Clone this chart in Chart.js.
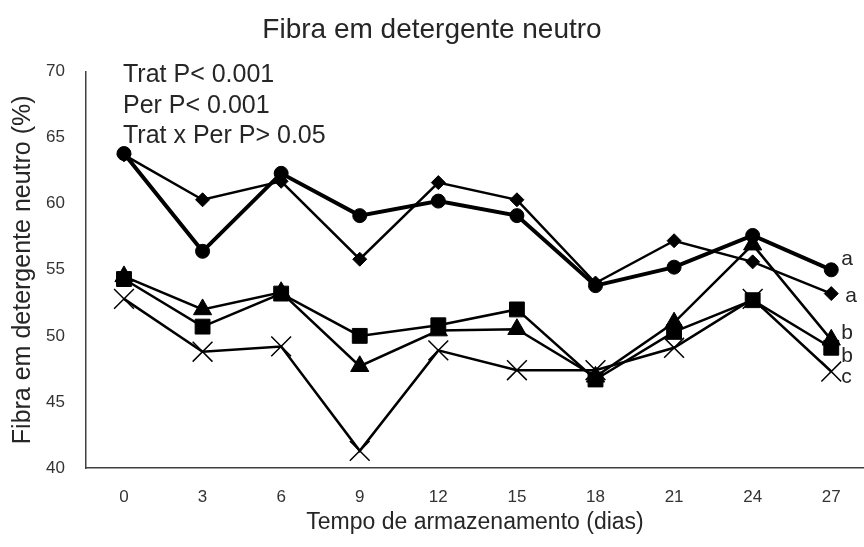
<!DOCTYPE html>
<html>
<head>
<meta charset="utf-8">
<script src="https://cdn.jsdelivr.net/npm/chart.js@4.4.1/dist/chart.umd.min.js"></script>
<style>
    html, body { margin: 0; padding: 0; background: #fff; }
    #wrap { width: 864px; height: 547px; }
</style>
</head>
<body>
<div id="wrap"><canvas id="fdnChart" width="864" height="547"></canvas></div>
<script>
// dados
var dias = [0, 3, 6, 9, 12, 15, 18, 21, 24, 27];
var serieCirculo = [63.8, 56.4, 62.3, 59.1, 60.2, 59.1, 53.8, 55.2, 57.6, 55.0];
var serieLosango = [63.7, 60.3, 61.7, 55.8, 61.6, 60.3, 54.0, 57.2, 55.6, 53.2];
var serieQuadrado = [54.3, 50.7, 53.2, 50.0, 50.8, 52.0, 46.7, 50.3, 52.7, 49.1];
var serieTriangulo = [54.5, 52.0, 53.3, 47.7, 50.4, 50.5, 46.9, 51.0, 56.9, 49.7];
var serieX = [52.8, 48.8, 49.2, 41.3, 48.9, 47.4, 47.4, 49.1, 52.8, 47.3];
var yTicks = [40, 45, 50, 55, 60, 65, 70];

// letras de significancia no fim das linhas
var letras = ['a', 'a', 'b', 'b', 'c'];
var letrasY = [55.4, 52.6, 49.8, 48.05, 46.45];

var anotacoes = ['Trat P< 0.001', 'Per P< 0.001', 'Trat x Per P> 0.05'];

function pontos(valores) {
    return dias.map(function (d, i) { return { x: d, y: valores[i] }; });
}

function serie(label, valores, estilo, raio, espessura) {
    return {
        label: label,
        data: pontos(valores),
        borderColor: '#000',
        backgroundColor: '#000',
        borderWidth: espessura,
        pointStyle: estilo,
        pointRadius: raio,
        pointBorderWidth: estilo === 'crossRot' ? 1.5 : 1,
        pointBorderColor: '#000',
        pointBackgroundColor: '#000',
        tension: 0,
        fill: false
    };
}

var textoPlugin = {
    id: 'textoPlugin',
    afterDraw: function (chart) {
        var ctx = chart.ctx;
        var xs = chart.scales.x;
        var ys = chart.scales.y;
        ctx.save();
        ctx.fillStyle = '#262626';
        ctx.textAlign = 'left';
        ctx.textBaseline = 'alphabetic';
        ctx.font = '25px "Liberation Sans", Arial, sans-serif';
        anotacoes.forEach(function (t, i) {
            ctx.fillText(t, 123, 82 + i * 30.5);
        });
        ctx.font = '21px "Liberation Sans", Arial, sans-serif';
        var xl = xs.getPixelForValue(27) + 10;
        letras.forEach(function (l, i) {
            ctx.fillText(l, xl + (i === 1 ? 4 : 0), ys.getPixelForValue(letrasY[i]));
        });
        ctx.restore();
    }
};

var ctx = document.getElementById('fdnChart').getContext('2d');
var fdnChart = new Chart(ctx, {
    type: 'line',
    data: {
        datasets: [
            serie('Circulo', serieCirculo, 'circle', 7, 4),
            serie('Losango', serieLosango, 'rectRot', 7, 2.5),
            serie('Quadrado', serieQuadrado, 'rect', 10.5, 2.5),
            serie('Triangulo', serieTriangulo, 'triangle', 10.5, 2.5),
            serie('X', serieX, 'crossRot', 14, 2.5)
        ]
    },
    options: {
        responsive: false,
        animation: false,
        devicePixelRatio: 1,
        layout: { padding: 0, autoPadding: false },
        plugins: {
            legend: { display: false },
            tooltip: { enabled: false },
            title: {
                display: true,
                text: 'Fibra em detergente neutro',
                color: '#262626',
                font: { family: '"Liberation Sans", Arial, sans-serif', size: 28, weight: 'normal' },
                padding: { top: 13, bottom: 25 }
            }
        },
        scales: {
            x: {
                type: 'linear',
                min: -1.45,
                max: 28.25,
                afterBuildTicks: function (scale) {
                    scale.ticks = dias.map(function (d) { return { value: d }; });
                },
                afterFit: function (scale) {
                    scale.height = 79;
                    scale.paddingLeft = 0;
                    scale.paddingRight = 0;
                },
                grid: { display: false, drawTicks: false },
                border: { display: true, color: '#404040', width: 1.5 },
                ticks: {
                    color: '#333',
                    padding: 19,
                    maxRotation: 0,
                    autoSkip: false,
                    font: { family: '"Liberation Sans", Arial, sans-serif', size: 17 }
                },
                title: {
                    display: true,
                    text: 'Tempo de armazenamento (dias)',
                    color: '#262626',
                    font: { family: '"Liberation Sans", Arial, sans-serif', size: 23 },
                    padding: { top: 0, bottom: 11 }
                }
            },
            y: {
                min: 40,
                max: 70,
                afterBuildTicks: function (scale) {
                    scale.ticks = yTicks.map(function (v) { return { value: v }; });
                },
                afterFit: function (scale) { scale.width = 86; },
                grid: { display: false, drawTicks: false },
                border: { display: true, color: '#404040', width: 1.5 },
                ticks: {
                    color: '#333',
                    padding: 21,
                    font: { family: '"Liberation Sans", Arial, sans-serif', size: 17 }
                },
                title: {
                    display: true,
                    text: 'Fibra em detergente neutro (%)',
                    color: '#262626',
                    font: { family: '"Liberation Sans", Arial, sans-serif', size: 25 },
                    padding: { top: 8, bottom: 0 }
                }
            }
        }
    },
    plugins: [textoPlugin]
});
</script>
</body>
</html>
